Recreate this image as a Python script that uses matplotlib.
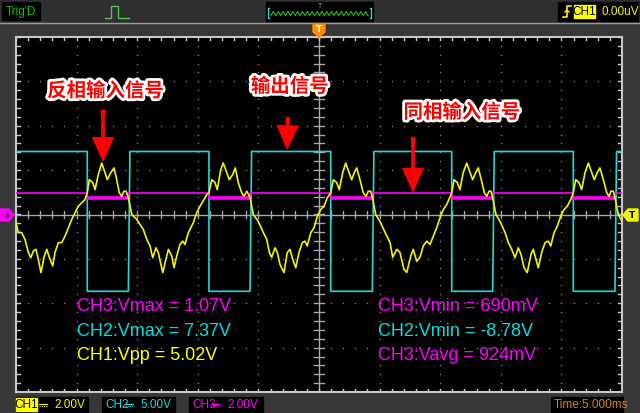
import numpy as np
import matplotlib
matplotlib.use("Agg")
import matplotlib.pyplot as plt
from matplotlib.patches import Rectangle, Polygon
import matplotlib.patheffects as pe

# CH1 (yellow), time in ms, volts
ch1_t = [-25.00, -24.81, -24.53, -24.26, -23.98, -23.78, -23.57, -23.35, -23.16, -22.94,
         -22.69, -22.46, -22.25, -21.97, -21.78, -21.51, -21.23, -20.96, -20.68, -20.40,
         -20.13, -19.86, -19.58, -19.31, -19.12,
         -18.95, -18.67, -18.48, -18.21, -17.93, -17.66, -17.47, -17.18, -16.91, -16.69,
         -16.48, -16.28, -16.09, -15.92, -15.73,
         -15.45, -15.04, -14.50, -14.21, -13.94, -13.72, -13.45, -13.26, -12.89, -12.56,
         -12.43, -12.15, -11.96, -11.74, -11.47, -11.24, -11.06, -10.78, -10.37, -10.09,
         -9.82, -9.49, -9.26, -9.08,
         -8.85, -8.58, -8.39, -8.11, -7.90, -7.61, -7.40, -7.12, -6.91, -6.66,
         -6.38, -6.19, -5.96, -5.69,
         -5.42, -5.01, -4.60, -4.31, -4.10, -3.90, -3.63, -3.44, -3.22, -2.89,
         -2.62, -2.39, -2.17, -1.92, -1.65, -1.38, -1.16, -0.97, -0.68, -0.41,
         -0.14, 0.14, 0.41, 0.68, 0.97,
         1.18, 1.46, 1.67, 1.96, 2.20, 2.48, 2.70, 2.91, 3.11, 3.38,
         3.65, 3.88, 4.07, 4.27, 4.40,
         4.68, 5.03, 5.45, 5.86, 6.08, 6.41, 6.68, 7.01, 7.24, 7.57,
         7.78, 8.06, 8.33, 8.60, 8.89, 9.16, 9.43, 9.71, 9.98, 10.25,
         10.54, 10.95,
         11.14, 11.41, 11.63, 11.90, 12.19, 12.46, 12.68, 12.93, 13.14, 13.39,
         13.64, 13.84, 14.03, 14.19, 14.33,
         14.60, 14.93, 15.35, 15.62, 15.90, 16.17, 16.44, 16.67, 16.91, 17.18,
         17.49, 17.68, 17.90, 18.09, 18.37, 18.65, 18.92, 19.12, 19.39, 19.66,
         19.94, 20.21, 20.48, 20.77, 20.98,
         21.18, 21.45, 21.67, 21.95, 22.22, 22.50, 22.71, 22.96, 23.18, 23.46,
         23.74, 23.93, 24.09, 24.28, 24.42, 24.69, 25.00]
ch1_v = [-0.37, -0.81, -0.82, -1.12, -1.71, -1.95, -1.65, -1.57, -2.02, -2.62,
         -1.93, -1.57, -1.93, -2.32, -1.71, -1.27, -1.27, -0.98, -0.60, -0.22,
         0.08, 0.37, 0.53, 0.67, 0.98,
         1.57, 1.44, 1.12, 1.80, 2.32, 1.89, 1.57, 1.89, 2.10, 1.57,
         0.98, 0.82, 1.05, 1.05, 0.76,
         0.00, -0.22, -0.67, -1.12, -1.42, -1.95, -1.50, -1.72, -2.62, -1.87,
         -1.57, -1.87, -2.40, -1.87, -1.35, -1.20, -1.35, -0.82, -0.37, 0.08,
         0.37, 0.67, 0.90, 0.98,
         1.57, 1.44, 1.12, 2.02, 2.32, 1.89, 1.57, 1.80, 2.10, 1.44,
         0.98, 0.82, 1.05, 0.76,
         0.00, -0.31, -0.81, -1.12, -1.71, -1.93, -1.50, -1.71, -2.25, -2.62,
         -1.72, -1.57, -2.02, -2.40, -1.71, -1.27, -1.20, -1.42, -0.82, -0.60,
         -0.08, 0.22, 0.37, 0.75, 0.98,
         1.57, 1.44, 1.12, 1.89, 2.32, 1.89, 1.57, 1.89, 2.10, 1.57,
         0.98, 0.82, 1.05, 1.05, 0.76,
         0.00, -0.31, -0.81, -1.26, -1.93, -1.57, -1.71, -2.47, -2.61, -1.87,
         -1.57, -2.11, -1.93, -1.42, -1.20, -1.35, -0.98, -0.60, -0.15, 0.22,
         0.45, 0.98,
         1.57, 1.44, 1.12, 1.89, 2.32, 1.89, 1.57, 1.89, 2.10, 1.57,
         0.98, 0.82, 1.05, 1.05, 0.76,
         0.00, -0.31, -0.81, -1.26, -1.57, -1.95, -1.50, -1.80, -2.38, -2.62,
         -1.80, -1.57, -2.02, -2.40, -1.71, -1.27, -1.20, -1.42, -0.82, -0.53,
         -0.08, 0.22, 0.37, 0.67, 0.98,
         1.57, 1.44, 1.12, 1.89, 2.32, 1.89, 1.57, 1.89, 2.10, 1.57,
         0.98, 0.82, 1.05, 1.05, 0.76, 0.00, -0.31]

# CH2 (cyan) square wave
ch2_t = [-25.00, -19.12, -19.12, -15.73, -15.60, -9.08, -9.08, -5.69, -5.56, 0.97, 0.97,
         4.40, 4.53, 10.95, 10.95, 14.33, 14.46, 20.98, 20.98, 24.42, 24.55, 25.00]
ch2_v = [7.10, 7.10, -8.65, -8.65, 7.10, 7.10, -8.65, -8.65, 7.10, 7.10, -8.65,
         -8.65, 7.10, 7.10, -8.65, -8.65, 7.10, 7.10, -8.65, -8.65, 7.10, 7.10]

# CH3 (magenta)
ch3_t = [-25.00, -19.12, -19.12, -15.73, -15.73, -9.08, -9.08, -5.69, -5.69, 0.97, 0.97,
         4.40, 4.40, 10.95, 10.95, 14.33, 14.33, 20.98, 20.98, 24.42, 24.42, 25.00]
ch3_v = [0.98, 0.98, 0.75, 0.75, 0.98, 0.98, 0.75, 0.75, 0.98, 0.98, 0.75,
         0.75, 0.98, 0.98, 0.75, 0.75, 0.98, 0.98, 0.75, 0.75, 0.98, 0.98]

volts_per_div = {"CH1": 2.0, "CH2": 5.0, "CH3": 2.0}
ms_per_div = 5.0

meas_left = ["CH3:Vmax = 1.07V", "CH2:Vmax = 7.37V", "CH1:Vpp = 5.02V"]
meas_right = ["CH3:Vmin = 690mV", "CH2:Vmin = -8.78V", "CH3:Vavg = 924mV"]
meas_left_col = ["#ff00ff", "#00e0e0", "#ffff00"]
meas_right_col = ["#ff00ff", "#00e0e0", "#ff00ff"]

YEL = "#f4f400"
CYA = "#20d8d8"
MAG = "#ff00ff"

W, H = 640, 413
fig = plt.figure(figsize=(W / 100, H / 100), dpi=100)
fig.patch.set_facecolor("#383838")

# plot area
x0, x1, y0, y1 = 16, 622, 37, 392
ax = fig.add_axes([x0 / W, 1 - y1 / H, (x1 - x0) / W, (y1 - y0) / H])
ax.set_facecolor("black")
ax.set_xlim(-25, 25)
ax.set_ylim(-4, 4)
ax.set_xticks([])
ax.set_yticks([])
for s in ax.spines.values():
    s.set_color("#c8c8c8")
    s.set_linewidth(1.5)

# dotted grid (dots on major lines at minor positions)
minor_x = np.arange(-25, 25.01, 1.0)
minor_y = np.arange(-4, 4.01, 0.2)
for gx in np.arange(-20, 21, 5):
    if gx != 0:
        ax.plot(np.full(minor_y.size, gx), minor_y, ls="none", marker="s", ms=0.9,
                color="#8a8a8a", mew=0)
for gy in [-3, -2, -1, 1, 2, 3]:
    ax.plot(minor_x, np.full(minor_x.size, gy), ls="none", marker="s", ms=0.9,
            color="#8a8a8a", mew=0)
# centre axes with ticks
ax.axhline(0, color="#a8a8a8", lw=1)
ax.axvline(0, color="#a8a8a8", lw=1)
for mx in minor_x:
    ax.plot([mx, mx], [-0.07, 0.07], color="#a8a8a8", lw=1)
    ax.plot([mx, mx], [4, 3.93], color="#c8c8c8", lw=1)
    ax.plot([mx, mx], [-4, -3.93], color="#c8c8c8", lw=1)
for my in minor_y:
    ax.plot([-0.4, 0.4], [my, my], color="#a8a8a8", lw=1)
    ax.plot([-25, -24.7], [my, my], color="#c8c8c8", lw=1)
    ax.plot([25, 24.7], [my, my], color="#c8c8c8", lw=1)

# traces
ax.plot(ch2_t, np.array(ch2_v) / volts_per_div["CH2"], color=CYA, lw=1.2, zorder=5)
ch3_d = np.array(ch3_v) / volts_per_div["CH3"]
ax.plot(ch3_t, ch3_d, color=MAG, lw=1.2, zorder=6)
for i in range(len(ch3_t) - 1):
    if ch3_v[i] < 0.9 and ch3_v[i + 1] < 0.9 and ch3_t[i + 1] > ch3_t[i]:
        ax.plot(ch3_t[i:i + 2], ch3_d[i:i + 2], color=MAG, lw=2.6, zorder=6,
                solid_capstyle="butt")
ax.plot(ch1_t, np.array(ch1_v) / volts_per_div["CH1"], color=YEL, lw=1.2, zorder=7)

# measurements
for i, (t, c) in enumerate(zip(meas_left, meas_left_col)):
    ax.text(-19.95, -2.08 - i * 0.55, t, color=c, fontsize=13, family="Liberation Sans",
            va="center", ha="left", zorder=9)
for i, (t, c) in enumerate(zip(meas_right, meas_right_col)):
    ax.text(4.85, -2.08 - i * 0.55, t, color=c, fontsize=13, family="Liberation Sans",
            va="center", ha="left", zorder=9)

# annotations
cjk = ["Noto Sans CJK SC", "DejaVu Sans"]
stroke = [pe.withStroke(linewidth=4, foreground="white")]
labels = [("反相输入信号", -17.6, 2.78), ("输出信号", -2.4, 2.88), ("同相输入信号", 11.8, 2.3)]
for txt, tx, ty in labels:
    ax.text(tx, ty, txt, color="#ff0000", fontsize=14, fontweight="bold", family=cjk,
            ha="center", va="center", path_effects=stroke, zorder=10)
arrows = [((-17.82, 2.36), (-17.82, 1.18)), ((-2.56, 2.20), (-2.64, 1.45)),
          ((7.76, 1.75), (7.76, 0.49))]
for (ax0, ay0), (ax1_, ay1) in arrows:
    ax.annotate("", xy=(ax1_, ay1), xytext=(ax0, ay0), zorder=10,
                arrowprops=dict(arrowstyle="wedge,tail_width=0.35,shrink_factor=0.5",
                                color="#ff0000", lw=0, shrinkA=0, shrinkB=8))
    ax.annotate("", xy=(ax1_, ay1), xytext=(ax0, ay0), zorder=10,
                arrowprops=dict(arrowstyle="simple,head_length=1.0,head_width=0.9,tail_width=0.15",
                                color="#ff0000", lw=0, shrinkA=10, shrinkB=0,
                                mutation_scale=18))

# overlay for the scope chrome, pixel coordinates
ov = fig.add_axes([0, 0, 1, 1], zorder=20)
ov.set_xlim(0, W)
ov.set_ylim(H, 0)
ov.axis("off")
ov.patch.set_alpha(0)

ov.add_patch(Rectangle((0, 0), W, 22, color="#303030", zorder=0))
ov.plot([0, W], [22.5, 22.5], color="#9a9a9a", lw=1)

ov.add_patch(Rectangle((2, 2), 38, 18, color="black"))
ov.text(21, 11.5, "Trig'D", color="#10c010", fontsize=8.5, family="Liberation Sans",
        ha="center", va="center")
ov.plot([105, 111, 111, 118, 118, 129], [17.5, 17.5, 6, 6, 17.5, 17.5], color="#50c050", lw=1)

ov.add_patch(Rectangle((266, 2), 107, 19, color="black"))
ov.plot([269, 268, 268, 269], [8, 8, 18, 18], color=CYA, lw=1)
ov.plot([370, 371, 371, 370], [8, 8, 18, 18], color=CYA, lw=1)
zz_x = np.linspace(271, 368, 41)
zz_y = np.where(np.arange(41) % 2 == 0, 15.5, 11.5)
ov.plot(zz_x, zz_y, color="#20c020", lw=0.8)
ov.text(319, 6, "T", color="#ff8000", fontsize=5, ha="center", va="center")

ov.add_patch(Rectangle((558, 2), 80, 19, color="black"))
ov.plot([563, 567, 567, 571], [17, 17, 6, 6], color=YEL, lw=1.2)
ov.plot([565, 567, 569], [12, 10, 12], color=YEL, lw=1)
ov.add_patch(Rectangle((574, 5), 21, 13, color="#ffff00"))
ov.text(584.5, 11.8, "CH1", color="black", fontsize=8.5, family="Liberation Sans",
        ha="center", va="center")
ov.text(602, 11.8, "0.00uV", color=YEL, fontsize=8.5, family="Liberation Sans",
        ha="left", va="center")

# top trigger marker
ov.add_patch(Polygon([[313, 24], [325, 24], [325, 32], [319, 37], [313, 32]], color="#ff8c00"))
ov.text(319, 29.5, "T", color="white", fontsize=6.5, fontweight="bold", ha="center", va="center")
# CH3 marker left
ov.add_patch(Polygon([[0, 209], [9, 209], [14, 215], [9, 221], [0, 221]], color=MAG))
ov.text(6, 215.5, "3", color="#600060", fontsize=6.5, fontweight="bold", ha="center", va="center")
# trigger level marker right
ov.add_patch(Polygon([[623, 215], [628, 209], [638, 209], [638, 221], [628, 221]], color=YEL))
ov.text(632, 215.5, "T", color="black", fontsize=6.5, fontweight="bold", ha="center", va="center")

# bottom bar
boxes = [(16, 88, "CH1", "2.00V", YEL), (102, 175, "CH2", "5.00V", CYA),
         (189, 263, "CH3", "2.00V", MAG)]
for bx0, bx1, name, scale, col in boxes:
    ov.add_patch(Rectangle((bx0, 397), bx1 - bx0, 15, color="black"))
    if name == "CH1":
        ov.add_patch(Rectangle((bx0, 398), 21, 13, color="#ffff00"))
        ov.text(bx0 + 10.5, 405, name, color="black", fontsize=8.5,
                family="Liberation Sans", ha="center", va="center")
    else:
        ov.text(bx0 + 3, 405, name, color=col, fontsize=8.5,
                family="Liberation Sans", ha="left", va="center")
    ov.plot([bx0 + 23, bx0 + 31], [403.5, 403.5], color=col, lw=0.8)
    ov.plot([bx0 + 23, bx0 + 31], [406, 406], color=col, lw=0.8, ls=(0, (1, 1)))
    ov.text(bx0 + 38, 405, scale, color=col, fontsize=8.5,
            family="Liberation Sans", ha="left", va="center")
ov.add_patch(Rectangle((551, 397), 72, 15, color="black"))
ov.text(554, 405, "Time:5.000ms", color="#e08010", fontsize=8.5,
        family="Liberation Sans", ha="left", va="center")

fig.savefig("out.png", dpi=100, facecolor=fig.get_facecolor())
